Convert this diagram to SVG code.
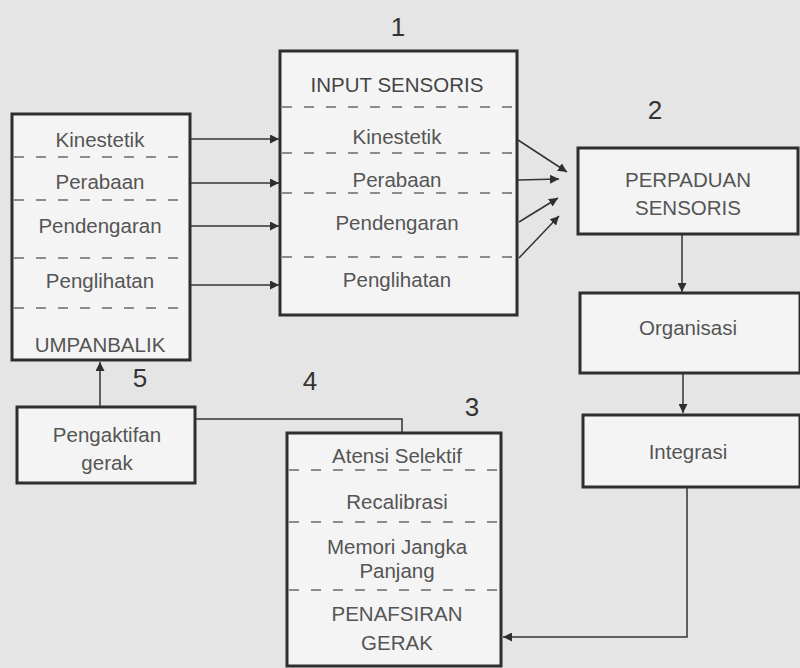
<svg xmlns="http://www.w3.org/2000/svg" width="800" height="668" viewBox="0 0 800 668">
<style>
.box{fill:#f4f4f4;stroke:#2e2e2e;stroke-width:3}
.dash{stroke:#6a6a6a;stroke-width:1.6;stroke-dasharray:10 12;fill:none}
.t{font-family:"Liberation Sans",Arial,sans-serif;font-size:20.5px;fill:#555;text-anchor:middle}
.num{font-family:"Liberation Sans",Arial,sans-serif;font-size:26px;fill:#333;text-anchor:middle}
.ln{stroke:#333;stroke-width:1.5;fill:none}
</style>
<defs>
<marker id="ah" viewBox="0 0 10 10" refX="10" refY="5" markerWidth="9" markerHeight="9" markerUnits="userSpaceOnUse" orient="auto">
<path d="M0,0 L10,5 L0,10 Z" fill="#2e2e2e"/>
</marker>
</defs>
<rect x="0" y="0" width="800" height="668" fill="#e5e5e5"/>

<g id="umpanbalik">
<rect class="box" x="12" y="114" width="178" height="246"/>
<line class="dash" x1="14" y1="157" x2="188" y2="157"/>
<line class="dash" x1="14" y1="200" x2="188" y2="200"/>
<line class="dash" x1="14" y1="258" x2="188" y2="258"/>
<line class="dash" x1="14" y1="308" x2="188" y2="308"/>
<text class="t" x="100" y="147">Kinestetik</text>
<text class="t" x="100" y="189">Perabaan</text>
<text class="t" x="100" y="233">Pendengaran</text>
<text class="t" x="100" y="288">Penglihatan</text>
<text class="t" x="100" y="352">UMPANBALIK</text>
</g>

<g id="input-sensoris">
<text class="num" x="398" y="36">1</text>
<rect class="box" x="280" y="51" width="237" height="264"/>
<line class="dash" x1="282" y1="107" x2="515" y2="107"/>
<line class="dash" x1="282" y1="153" x2="515" y2="153"/>
<line class="dash" x1="282" y1="193" x2="515" y2="193"/>
<line class="dash" x1="282" y1="257" x2="515" y2="257"/>
<text class="t" x="397" y="92" style="fill:#444">INPUT SENSORIS</text>
<text class="t" x="397" y="144">Kinestetik</text>
<text class="t" x="397" y="187">Perabaan</text>
<text class="t" x="397" y="230">Pendengaran</text>
<text class="t" x="397" y="287">Penglihatan</text>
</g>

<g id="perpaduan">
<text class="num" x="655" y="119">2</text>
<rect class="box" x="578" y="148" width="220" height="86"/>
<text class="t" x="688" y="187">PERPADUAN</text>
<text class="t" x="688" y="215">SENSORIS</text>
</g>

<g id="organisasi">
<rect class="box" x="580" y="293" width="220" height="80"/>
<text class="t" x="688" y="335">Organisasi</text>
</g>

<g id="integrasi">
<rect class="box" x="583" y="415" width="217" height="72"/>
<text class="t" x="688" y="459">Integrasi</text>
</g>

<g id="penafsiran">
<text class="num" x="472" y="416">3</text>
<rect class="box" x="287" y="433" width="214" height="233"/>
<line class="dash" x1="289" y1="470" x2="499" y2="470"/>
<line class="dash" x1="289" y1="522" x2="499" y2="522"/>
<line class="dash" x1="289" y1="590" x2="499" y2="590"/>
<text class="t" x="397" y="463">Atensi Selektif</text>
<text class="t" x="397" y="509">Recalibrasi</text>
<text class="t" x="397" y="554">Memori Jangka</text>
<text class="t" x="397" y="578">Panjang</text>
<text class="t" x="397" y="621">PENAFSIRAN</text>
<text class="t" x="397" y="650">GERAK</text>
</g>

<g id="pengaktifan">
<text class="num" x="140" y="387">5</text>
<rect class="box" x="17" y="407" width="178" height="76"/>
<text class="t" x="107" y="442">Pengaktifan</text>
<text class="t" x="107" y="470">gerak</text>
</g>

<text class="num" x="310" y="390">4</text>

<g id="connectors">
<line class="ln" x1="190" y1="139" x2="279" y2="139" marker-end="url(#ah)"/>
<line class="ln" x1="190" y1="183" x2="279" y2="183" marker-end="url(#ah)"/>
<line class="ln" x1="190" y1="226" x2="279" y2="226" marker-end="url(#ah)"/>
<line class="ln" x1="190" y1="285" x2="279" y2="285" marker-end="url(#ah)"/>
<line class="ln" x1="518" y1="140" x2="567" y2="172" marker-end="url(#ah)"/>
<line class="ln" x1="518" y1="180" x2="559" y2="179" marker-end="url(#ah)"/>
<line class="ln" x1="519" y1="222" x2="558" y2="198" marker-end="url(#ah)"/>
<line class="ln" x1="519" y1="258" x2="559" y2="216" marker-end="url(#ah)"/>
<line class="ln" x1="682" y1="235" x2="682" y2="292" marker-end="url(#ah)"/>
<line class="ln" x1="683" y1="374" x2="683" y2="413" marker-end="url(#ah)"/>
<polyline class="ln" points="687,488 687,637 503,637" marker-end="url(#ah)"/>
<line class="ln" x1="100" y1="406" x2="100" y2="362" marker-end="url(#ah)"/>
<polyline class="ln" points="195,419 402,419 402,433"/>
</g>
</svg>
